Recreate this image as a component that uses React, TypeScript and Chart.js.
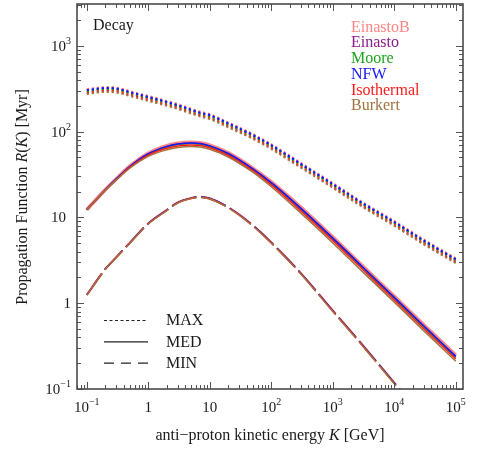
import React, { useEffect, useRef } from "react";
import { Chart, registerables } from "chart.js";

Chart.register(...registerables);

// Anti-proton kinetic energy grid K [GeV]
const energy = [0.1, 0.2, 0.3, 0.5, 1, 2, 3, 5, 7, 10, 20, 50, 100, 300, 1000, 3000, 1e4, 3e4, 1e5];

// MAX propagation parameters, R(K) [Myr]
const maxEinastoB = [313, 331, 327, 297, 261, 228, 210, 185, 171, 160, 128, 94, 71.5, 43.5, 25.2, 15.2, 9.1, 5.55, 3.35];
const maxEinasto = [299, 316, 312, 284, 249, 218, 201, 177, 163, 153, 122, 89.8, 68.3, 41.5, 24.1, 14.5, 8.69, 5.3, 3.2];
const maxMoore = [294, 310, 307, 279, 245, 214, 197, 174, 160, 150, 120, 88.2, 67.1, 40.8, 23.6, 14.3, 8.54, 5.21, 3.14];
const maxNFW = [305, 322, 318, 289, 254, 222, 204, 180, 166, 156, 125, 91.5, 69.6, 42.3, 24.5, 14.8, 8.85, 5.4, 3.26];
const maxIsothermal = [282, 299, 295, 268, 235, 206, 189, 167, 154, 144, 115, 84.8, 64.5, 39.2, 22.7, 13.7, 8.21, 5.0, 3.02];
const maxBurkert = [274, 290, 286, 260, 228, 200, 184, 162, 150, 140, 112, 82.3, 62.6, 38.1, 22.1, 13.3, 7.96, 4.86, 2.93];

// MED propagation parameters
const medEinastoB = [12.3, 21, 28, 39.5, 56, 68.5, 73, 75, 74, 69.5, 56.5, 37.5, 26, 13.2, 5.9, 2.75, 1.2, 0.56, 0.247];
const medEinasto = [12.3, 20.9, 27.8, 38.9, 54.8, 66.6, 71.0, 73.0, 72.0, 67.6, 55.0, 36.5, 25.1, 12.66, 5.66, 2.64, 1.15, 0.537, 0.237];
const medMoore = [12.3, 20.9, 27.7, 38.8, 54.5, 66.2, 70.5, 72.5, 71.5, 67.1, 54.6, 36.2, 24.9, 12.55, 5.61, 2.62, 1.14, 0.533, 0.235];
const medNFW = [12.3, 20.9, 27.9, 39.1, 55.2, 67.3, 71.7, 73.7, 72.7, 68.2, 55.5, 36.8, 25.4, 12.84, 5.74, 2.68, 1.17, 0.545, 0.240];
const medIsothermal = [12.3, 20.8, 27.4, 38.2, 53.2, 63.9, 68.1, 70.0, 69.0, 64.8, 52.7, 35.0, 23.9, 11.99, 5.36, 2.5, 1.09, 0.508, 0.224];
const medBurkert = [12.3, 20.7, 27.2, 37.4, 51.5, 61.3, 65.3, 67.1, 66.2, 62.2, 50.6, 33.6, 22.75, 11.29, 5.04, 2.35, 1.03, 0.479, 0.211];

// MIN propagation parameters
const minEinastoB = [1.25, 2.5, 3.42, 5.05, 8.5, 12.2, 14.9, 16.8, 17.3, 16.6, 13.1, 8.1, 5.1, 2.25, 0.82, 0.33, 0.118, 0.047, 0.017];
const minEinasto = [1.25, 2.5, 3.42, 5.05, 8.5, 12.2, 14.9, 16.8, 17.3, 16.6, 13.1, 8.08, 5.09, 2.24, 0.818, 0.329, 0.1175, 0.0468, 0.0169];
const minMoore = [1.25, 2.5, 3.42, 5.05, 8.49, 12.2, 14.9, 16.8, 17.3, 16.6, 13.1, 8.08, 5.09, 2.24, 0.817, 0.329, 0.1173, 0.0467, 0.0169];
const minNFW = [1.25, 2.5, 3.42, 5.05, 8.5, 12.2, 14.9, 16.8, 17.3, 16.6, 13.1, 8.09, 5.1, 2.25, 0.819, 0.33, 0.1178, 0.0469, 0.017];
const minIsothermal = [1.25, 2.5, 3.41, 5.03, 8.45, 12.1, 14.8, 16.7, 17.2, 16.5, 13.0, 8.0, 5.05, 2.22, 0.81, 0.326, 0.116, 0.0465, 0.0168];
const minBurkert = [1.25, 2.49, 3.4, 5.0, 8.4, 12.0, 14.7, 16.6, 17.1, 16.4, 12.9, 7.95, 5.0, 2.2, 0.8, 0.322, 0.115, 0.046, 0.0165];

// Axis ticks
const xTicks = [0.1, 1, 10, 100, 1000, 1e4, 1e5];
const xTickLabels: [string, string][] = [["10", "−1"], ["1", ""], ["10", ""], ["10", "2"], ["10", "3"], ["10", "4"], ["10", "5"]];
const yTicks = [0.1, 1, 10, 100, 1000];
const yTickLabels: [string, string][] = [["10", "−1"], ["1", ""], ["10", ""], ["10", "2"], ["10", "3"]];

const X_MIN = 0.0693;
const X_MAX = 1.31e5;
const Y_MIN = 0.1;
const Y_MAX = 3070;

const SERIF = '"Liberation Serif", "Times New Roman", Times, serif';
const INK = "#1a1a1a";

const profiles = [
  { name: "EinastoB", color: "#ff8585", max: maxEinastoB, med: medEinastoB, min: minEinastoB, wide: true, order: 6 },
  { name: "Einasto", color: "#8b1a8b", max: maxEinasto, med: medEinasto, min: minEinasto, wide: false, order: 5 },
  { name: "Moore", color: "#1fa31f", max: maxMoore, med: medMoore, min: minMoore, wide: false, order: 4 },
  { name: "NFW", color: "#1414ff", max: maxNFW, med: medNFW, min: minNFW, wide: false, order: 3 },
  { name: "Isothermal", color: "#ff1a1a", max: maxIsothermal, med: medIsothermal, min: minIsothermal, wide: false, order: 2 },
  { name: "Burkert", color: "#a3713f", max: maxBurkert, med: medBurkert, min: minBurkert, wide: false, order: 1 },
];

const styleLegend = [
  { label: "MAX", dash: [3, 2.5] },
  { label: "MED", dash: [] as number[] },
  { label: "MIN", dash: [10, 7] },
];

function drawPower(ctx: CanvasRenderingContext2D, base: string, exp: string, x: number, y: number, align: "center" | "right") {
  ctx.font = `15px ${SERIF}`;
  const wb = ctx.measureText(base).width;
  ctx.font = `10px ${SERIF}`;
  const we = exp ? ctx.measureText(exp).width : 0;
  const total = wb + we;
  const left = align === "center" ? x - total / 2 : x - total;
  ctx.textAlign = "left";
  ctx.textBaseline = "alphabetic";
  ctx.font = `15px ${SERIF}`;
  ctx.fillText(base, left, y);
  if (exp) {
    ctx.font = `10px ${SERIF}`;
    ctx.fillText(exp, left + wb, y - 7);
  }
}

// Draws a run of [text, italic] segments centred on (0,0) of the current transform
function drawRich(ctx: CanvasRenderingContext2D, parts: [string, boolean][], size: number) {
  const fonts = parts.map(([, it]) => `${it ? "italic " : ""}${size}px ${SERIF}`);
  let total = 0;
  const widths = parts.map(([t], i) => {
    ctx.font = fonts[i];
    const w = ctx.measureText(t).width;
    total += w;
    return w;
  });
  let x = -total / 2;
  ctx.textAlign = "left";
  ctx.textBaseline = "middle";
  parts.forEach(([t], i) => {
    ctx.font = fonts[i];
    ctx.fillText(t, x, 0);
    x += widths[i];
  });
}

const framePlugin = {
  id: "frameDecor",
  afterDatasetsDraw(chart: any) {
    const ctx: CanvasRenderingContext2D = chart.ctx;
    const { left, right, top, bottom } = chart.chartArea;
    const xs = chart.scales.x;
    const ys = chart.scales.y;
    ctx.save();

    // inward ticks on all four sides
    ctx.strokeStyle = "#555";
    ctx.lineWidth = 1;
    const tick = (x1: number, y1: number, x2: number, y2: number) => {
      ctx.beginPath();
      ctx.moveTo(x1, y1);
      ctx.lineTo(x2, y2);
      ctx.stroke();
    };
    for (let d = -2; d <= 5; d++) {
      for (let m = 1; m <= 9; m++) {
        const v = m * Math.pow(10, d);
        const len = m === 1 ? 7 : 4;
        if (v >= X_MIN && v <= X_MAX) {
          const px = Math.round(xs.getPixelForValue(v)) + 0.5;
          tick(px, bottom, px, bottom - len);
          tick(px, top, px, top + len);
        }
        if (v >= Y_MIN && v <= Y_MAX) {
          const py = Math.round(ys.getPixelForValue(v)) + 0.5;
          tick(left, py, left + len, py);
          tick(right, py, right - len, py);
        }
      }
    }

    // frame
    ctx.strokeStyle = "#4a4a4a";
    ctx.lineWidth = 1.6;
    ctx.strokeRect(left, top, right - left, bottom - top);

    // tick labels
    ctx.fillStyle = INK;
    xTicks.forEach((v, i) => {
      const [b, e] = xTickLabels[i];
      drawPower(ctx, b, e, xs.getPixelForValue(v), bottom + 22.5, "center");
    });
    yTicks.forEach((v, i) => {
      const [b, e] = yTickLabels[i];
      const edge = b === "10" && !e ? left - 11 : left - 6;
      drawPower(ctx, b, e, edge, ys.getPixelForValue(v) + 5, "right");
    });

    // axis titles
    ctx.save();
    ctx.translate((left + right) / 2, bottom + 47);
    drawRich(ctx, [["anti−proton kinetic energy ", false], ["K", true], [" [GeV]", false]], 16);
    ctx.restore();
    ctx.save();
    ctx.translate(23, 197);
    ctx.rotate(-Math.PI / 2);
    drawRich(ctx, [["Propagation Function ", false], ["R", true], ["(", false], ["K", true], [") [Myr]", false]], 16);
    ctx.restore();

    // panel label
    ctx.font = `16px ${SERIF}`;
    ctx.textAlign = "left";
    ctx.textBaseline = "middle";
    ctx.fillText("Decay", left + 16, top + 22);

    // halo profile names
    profiles.forEach((p, i) => {
      ctx.fillStyle = p.color;
      ctx.fillText(p.name, 351, 27.5 + i * 15.7);
    });

    // propagation model line styles
    styleLegend.forEach((s, i) => {
      const y = 320.5 + i * 21.3;
      ctx.strokeStyle = "#222";
      ctx.lineWidth = 1.2;
      ctx.setLineDash(s.dash);
      ctx.beginPath();
      ctx.moveTo(104, y);
      ctx.lineTo(148, y);
      ctx.stroke();
      ctx.setLineDash([]);
      ctx.fillStyle = INK;
      ctx.fillText(s.label, 166, y + 0.5);
    });

    ctx.restore();
  },
};

export default function App() {
  const canvasRef = useRef<HTMLCanvasElement | null>(null);

  useEffect(() => {
    if (!canvasRef.current) return;
    const series = (vals: number[]) => energy.map((k, i) => ({ x: k, y: vals[i] }));
    const datasets: any[] = [];
    profiles.forEach((p) => {
      datasets.push({
        label: `${p.name} MAX`,
        data: series(p.max),
        borderColor: p.color,
        borderWidth: 2,
        borderDash: [2.2, 2.8],
        order: p.order,
      });
      datasets.push({
        label: `${p.name} MED`,
        data: series(p.med),
        borderColor: p.color,
        borderWidth: p.wide ? 3.6 : 1.5,
        order: p.order,
      });
      datasets.push({
        label: `${p.name} MIN`,
        data: series(p.min),
        borderColor: p.color,
        borderWidth: p.wide ? 2.4 : 1.4,
        borderDash: [26, 5],
        order: p.order,
      });
    });
    datasets.forEach((d) => {
      d.pointRadius = 0;
      d.fill = false;
      d.cubicInterpolationMode = "monotone";
      d.clip = 0;
    });

    const chart = new Chart(canvasRef.current, {
      type: "line",
      data: { datasets },
      options: {
        animation: false,
        responsive: true,
        maintainAspectRatio: false,
        events: [],
        layout: { padding: { left: 77, right: 20, top: 4, bottom: 61 } },
        scales: {
          x: { type: "logarithmic", min: X_MIN, max: X_MAX, display: false },
          y: { type: "logarithmic", min: Y_MIN, max: Y_MAX, display: false },
        },
        plugins: { legend: { display: false }, tooltip: { enabled: false } },
      },
      plugins: [framePlugin],
    });
    return () => chart.destroy();
  }, []);

  return (
    <div style={{ position: "fixed", left: 0, top: 0, width: 483, height: 450, background: "#fff" }}>
      <canvas ref={canvasRef} />
    </div>
  );
}
